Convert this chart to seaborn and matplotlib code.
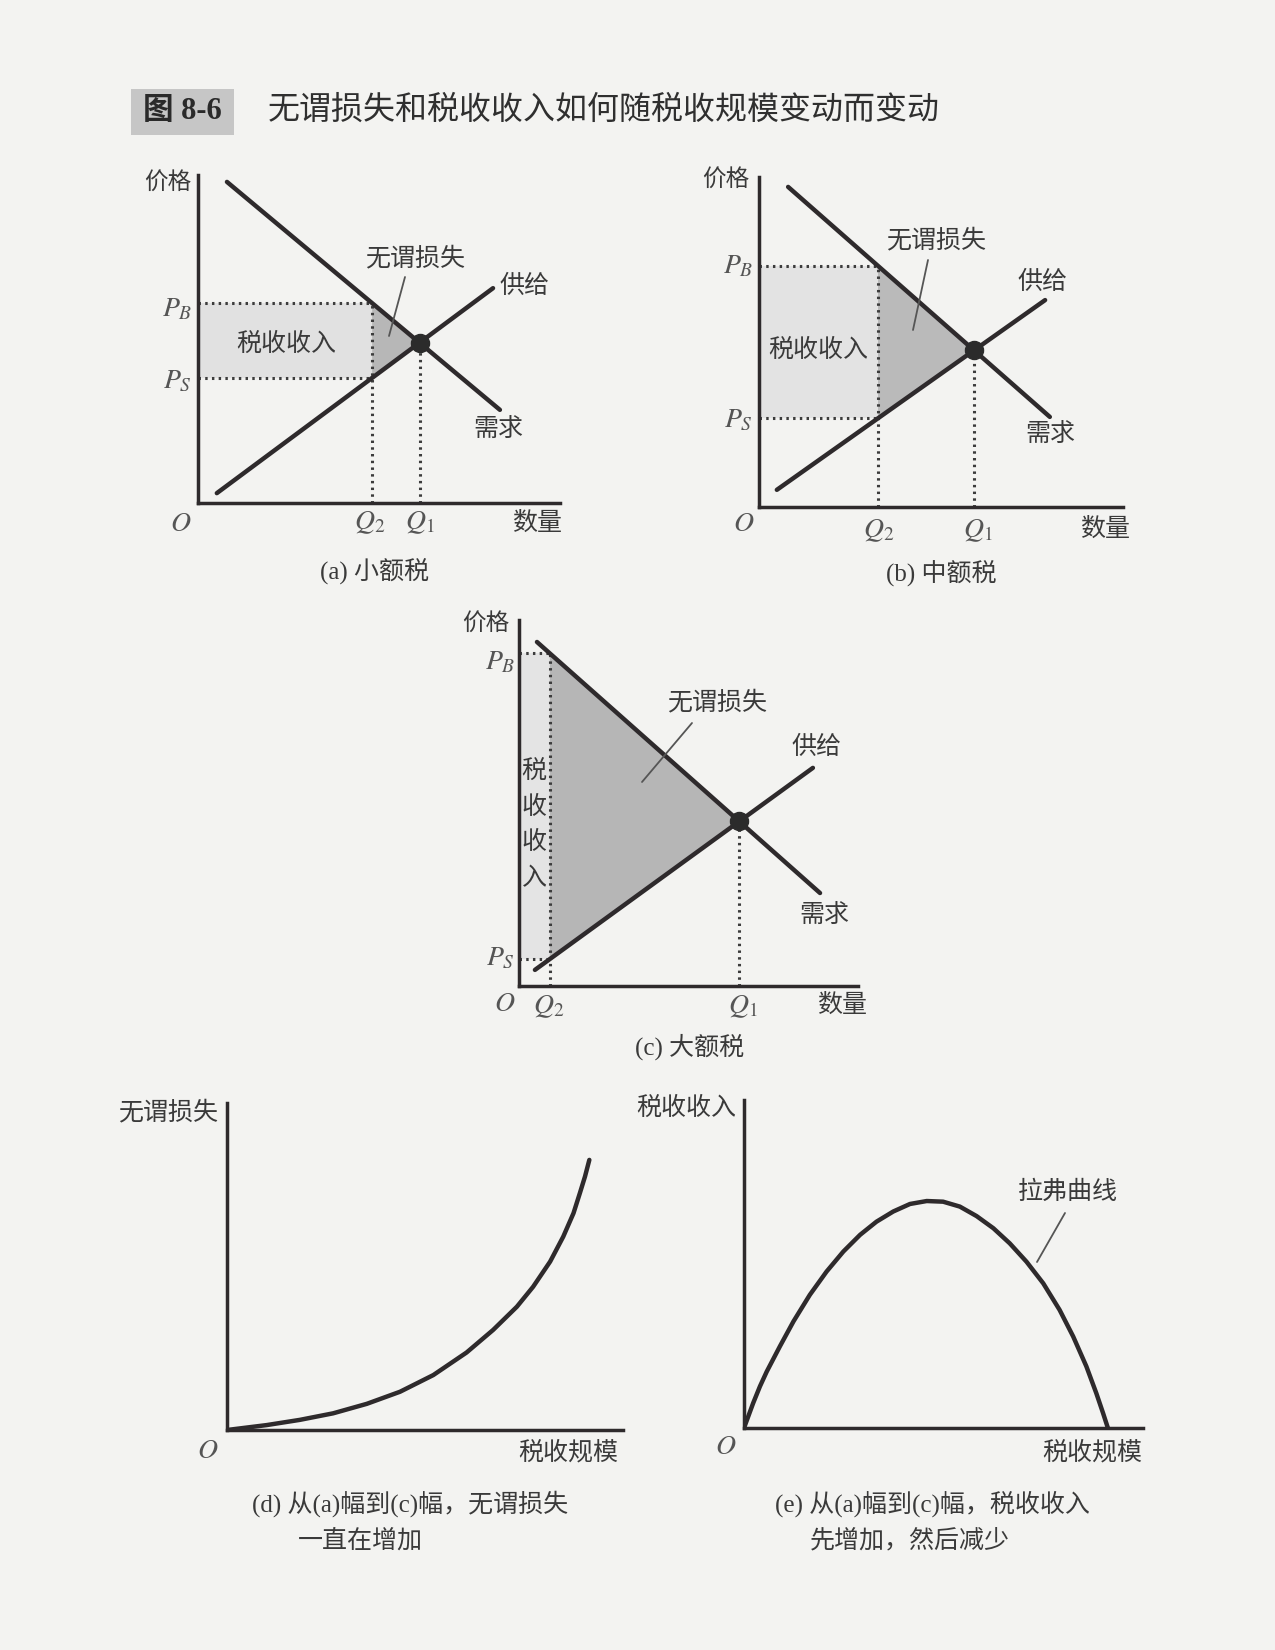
import numpy as np
import matplotlib
matplotlib.use("Agg")
import matplotlib.pyplot as plt
from matplotlib.lines import Line2D
from matplotlib.patches import Rectangle
import seaborn as sns

# ---- data (each panel on a 0-100 grid) ----
# (a) small tax
a_demand_x = [8.0, 83.4]
a_demand_y = [97.9, 28.4]
a_supply_x = [5.2, 81.5]
a_supply_y = [3.0, 65.5]
a_q2 = 48.1

# (b) medium tax
b_demand_x = [8.0, 79.9]
b_demand_y = [97.0, 27.3]
b_supply_x = [4.9, 78.6]
b_supply_y = [5.2, 62.7]
b_q2 = 32.7

# (c) large tax
c_demand_x = [5.3, 88.8]
c_demand_y = [94.0, 25.4]
c_supply_x = [4.7, 86.7]
c_supply_y = [4.4, 59.6]
c_q2 = 9.1

# (d) deadweight loss vs tax size
dwl_x = [0, 10.0, 18.4, 26.8, 35.3, 43.7, 52.1, 60.5, 67.2, 73.2, 77.3,
         81.6, 84.9, 87.5, 89.1, 90.4, 91.5]
dwl_y = [0, 1.5, 3.1, 5.1, 8.0, 11.7, 16.8, 23.7, 30.6, 37.7, 43.8,
         51.5, 59.1, 66.3, 72.4, 77.5, 82.6]

# (e) Laffer curve
laffer_x = [0, 2.3, 4.0, 5.7, 9.0, 12.4, 16.5, 20.7, 24.9, 29.1, 33.2, 37.4,
            41.6, 45.8, 49.9, 54.1, 58.3, 62.5, 66.6, 70.8, 75.0, 79.1, 82.5,
            85.8, 88.3, 90.0, 91.2]
laffer_y = [0, 7.6, 12.7, 17.2, 24.9, 32.5, 40.6, 47.7, 53.8, 58.9, 62.9, 66.0,
            68.3, 69.2, 69.0, 67.5, 64.6, 60.9, 56.3, 50.7, 44.1, 36.0, 27.9,
            18.8, 10.6, 4.5, 0]

W, H = 1275, 1650
BG = "#f3f3f1"
INK = "#2e2a2c"
TXT = "#3a3a3a"
SERIF_CJK = ["Liberation Serif", "Noto Sans CJK SC"]

sns.set_theme(style="white")
plt.rcParams["font.family"] = ["Noto Sans CJK SC", "DejaVu Sans"]
plt.rcParams["mathtext.fontset"] = "stix"

fig = plt.figure(figsize=(W / 100, H / 100), dpi=100, facecolor=BG)


def fx(px):
    return px / W


def fy(py):
    return 1 - py / H


def label(px, py, s, size=18, ha="center", va="center", color=TXT, **kw):
    fig.text(fx(px), fy(py), s, fontsize=size, ha=ha, va=va, color=color, **kw)


def pointer(x0, y0, x1, y1):
    fig.add_artist(Line2D([fx(x0), fx(x1)], [fy(y0), fy(y1)],
                          transform=fig.transFigure, color="#555555", lw=1.3))


def panel(x0, y0, x1, y1):
    ax = fig.add_axes([x0 / W, 1 - y1 / H, (x1 - x0) / W, (y1 - y0) / H])
    ax.set_xlim(0, 100)
    ax.set_ylim(0, 100)
    ax.set_facecolor("none")
    sns.despine(ax=ax)
    for side in ["left", "bottom"]:
        ax.spines[side].set_color(INK)
        ax.spines[side].set_linewidth(2.5)
    ax.set_xticks([])
    ax.set_yticks([])
    return ax


def line_y(x, xs, ys):
    return ys[0] + (x - xs[0]) * (ys[1] - ys[0]) / (xs[1] - xs[0])


def market(ax, dx, dy, sx, sy, q2, tax_fill, dwl_fill):
    md = (dy[1] - dy[0]) / (dx[1] - dx[0])
    ms = (sy[1] - sy[0]) / (sx[1] - sx[0])
    bd = dy[0] - md * dx[0]
    bs = sy[0] - ms * sx[0]
    q1 = (bs - bd) / (md - ms)
    p1 = md * q1 + bd
    pb = line_y(q2, dx, dy)
    ps = line_y(q2, sx, sy)

    ax.fill_between([0, q2], ps, pb, color=tax_fill, lw=0, zorder=1)
    ax.fill([q2, q2, q1], [pb, ps, p1], color=dwl_fill, lw=0, zorder=1)

    dot = dict(color="#3c3c3c", lw=2.2, linestyle=(0, (0.8, 1.4)), zorder=2)
    ax.plot([0, q2], [pb, pb], **dot)
    ax.plot([0, q2], [ps, ps], **dot)
    ax.plot([q2, q2], [0, pb], **dot)
    ax.plot([q1, q1], [0, p1], **dot)

    sns.lineplot(x=dx, y=dy, ax=ax, color=INK, lw=3.2, zorder=3)
    sns.lineplot(x=sx, y=sy, ax=ax, color=INK, lw=3.2, zorder=3)
    ax.plot([q1], [p1], "o", color="#2b2b2b", ms=13, zorder=4)


# ---- title ----
fig.add_artist(Rectangle((fx(131), fy(135)), (234 - 131) / W, (135 - 89) / H,
                         transform=fig.transFigure, facecolor="#c6c6c6",
                         edgecolor="none"))
label(182, 112, "图 8-6", size=22, family=SERIF_CJK, weight="bold", color="#2a2a2a")
label(268, 110, "无谓损失和税收收入如何随税收规模变动而变动", size=23, ha="left",
      color="#2f2f2f")

# ---- (a) ----
ax = panel(198, 175, 560, 503)
market(ax, a_demand_x, a_demand_y, a_supply_x, a_supply_y, a_q2, "#e1e1e1", "#b7b7b7")
label(168, 182, "价格", size=17)
label(177, 308, "$P_B$", size=20, color="#555555")
label(177, 380, "$P_S$", size=20, color="#555555")
label(181, 523, "$O$", size=20, color="#555555")
label(370, 521, "$Q_2$", size=20, color="#555555")
label(420, 521, "$Q_1$", size=20, color="#555555")
label(537, 523, "数量", size=18)
label(415, 258, "无谓损失", size=18)
pointer(405, 277, 389, 336)
label(524, 286, "供给", size=18)
label(498, 429, "需求", size=18)
label(286, 344, "税收收入", size=18)
label(375, 571, "(a) 小额税", size=18, family=SERIF_CJK)

# ---- (b) ----
ax = panel(759, 177, 1123, 507)
market(ax, b_demand_x, b_demand_y, b_supply_x, b_supply_y, b_q2, "#e3e3e3", "#bababa")
label(726, 179, "价格", size=17)
label(738, 265, "$P_B$", size=20, color="#555555")
label(738, 419, "$P_S$", size=20, color="#555555")
label(744, 523, "$O$", size=20, color="#555555")
label(879, 529, "$Q_2$", size=20, color="#555555")
label(978, 529, "$Q_1$", size=20, color="#555555")
label(1105, 529, "数量", size=18)
label(936, 240, "无谓损失", size=18)
pointer(928, 260, 913, 330)
label(1042, 282, "供给", size=18)
label(1050, 434, "需求", size=18)
label(818, 350, "税收收入", size=18)
label(941, 573, "(b) 中额税", size=18, family=SERIF_CJK)

# ---- (c) ----
ax = panel(519, 620, 858, 986)
market(ax, c_demand_x, c_demand_y, c_supply_x, c_supply_y, c_q2, "#e4e4e4", "#b6b6b6")
label(486, 623, "价格", size=17)
label(500, 661, "$P_B$", size=20, color="#555555")
label(500, 957, "$P_S$", size=20, color="#555555")
label(505, 1003, "$O$", size=20, color="#555555")
label(549, 1005, "$Q_2$", size=20, color="#555555")
label(743, 1005, "$Q_1$", size=20, color="#555555")
label(842, 1005, "数量", size=18)
label(717, 702, "无谓损失", size=18)
pointer(692, 723, 642, 782)
label(817, 747, "供给", size=18)
label(824, 915, "需求", size=18)
for ch, yy in zip("税收收入", [771, 807, 842, 878]):
    label(534, yy, ch, size=18)
label(690, 1047, "(c) 大额税", size=18, family=SERIF_CJK)

# ---- (d) ----
ax = panel(227, 1103, 623, 1430)
sns.lineplot(x=dwl_x, y=dwl_y, ax=ax, color=INK, lw=3.2, sort=False,
             solid_joinstyle="round", solid_capstyle="round")
label(218, 1112, "无谓损失", size=18, ha="right")
label(208, 1450, "$O$", size=20, color="#555555")
label(568, 1452, "税收规模", size=18)
label(252, 1504, "(d) 从(a)幅到(c)幅，无谓损失", size=18, ha="left", family=SERIF_CJK)
label(298, 1541, "一直在增加", size=18, ha="left", family=SERIF_CJK)

# ---- (e) ----
ax = panel(744, 1100, 1143, 1428)
sns.lineplot(x=laffer_x, y=laffer_y, ax=ax, color=INK, lw=3.2, sort=False,
             solid_joinstyle="round", solid_capstyle="round")
label(736, 1108, "税收收入", size=18, ha="right")
label(726, 1446, "$O$", size=20, color="#555555")
label(1092, 1452, "税收规模", size=18)
label(1068, 1192, "拉弗曲线", size=18)
pointer(1065, 1213, 1037, 1262)
label(775, 1504, "(e) 从(a)幅到(c)幅，税收收入", size=18, ha="left", family=SERIF_CJK)
label(810, 1541, "先增加，然后减少", size=18, ha="left", family=SERIF_CJK)

fig.savefig("out.png", dpi=100, facecolor=BG)
